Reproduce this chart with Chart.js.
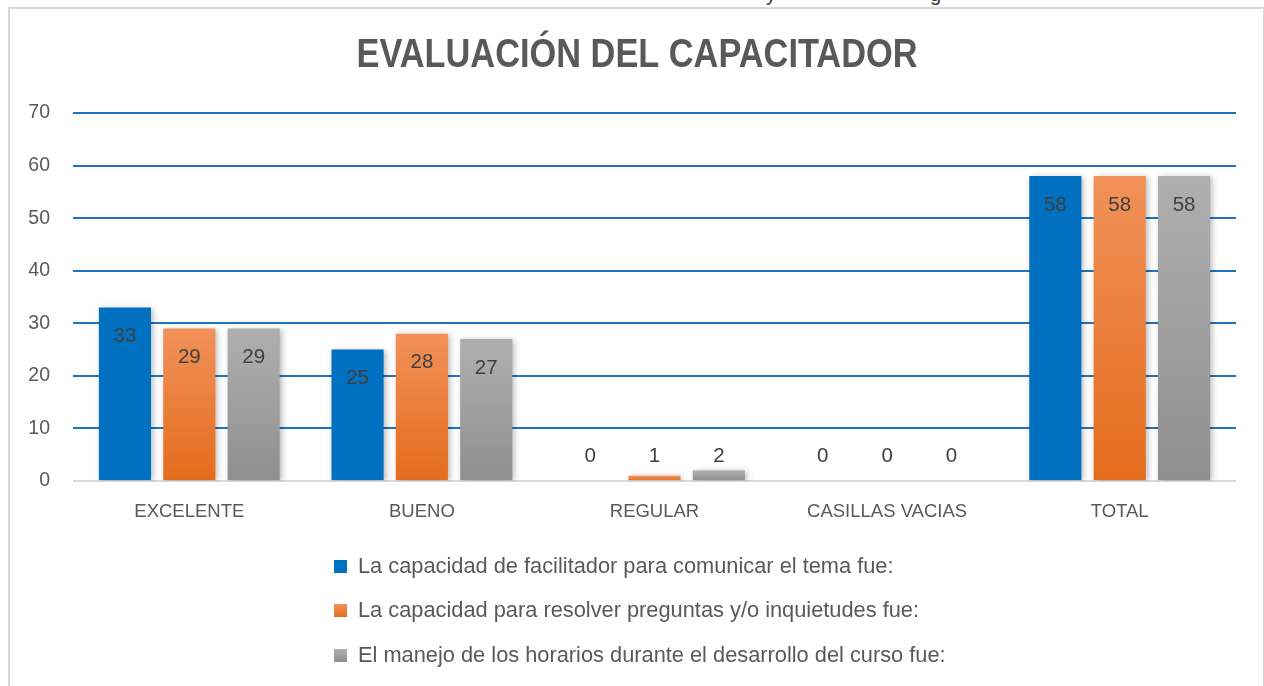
<!DOCTYPE html>
<html lang="es">
<head>
<meta charset="utf-8">
<title>Evaluación del capacitador</title>
<script src="https://cdn.jsdelivr.net/npm/chart.js@4.4.1/dist/chart.umd.min.js"></script>
<style>
  html, body { margin: 0; padding: 0; background: #fff; overflow: hidden; }
  #marco { position: absolute; left: 8px; top: 7px; width: 1253px; height: 700px; border: 2px solid #d9d9d9; border-bottom: none; }
  .corte { position: absolute; top: -17px; font: 20px "Liberation Sans"; color: #333; }
  canvas { position: absolute; left: 0; top: 0; }
</style>
</head>
<body>
<span class="corte" style="left:766px">y</span><span class="corte" style="left:930px">g</span>
<div id="marco"></div>
<canvas id="grafico" width="1264" height="686"></canvas>
<script>
// --- datos ---
const categorias = ['EXCELENTE', 'BUENO', 'REGULAR', 'CASILLAS VACIAS', 'TOTAL'];
const comunicarTema = [33, 25, 0, 0, 58];
const resolverPreguntas = [29, 28, 1, 0, 58];
const manejoHorarios = [29, 27, 2, 0, 58];
const nombresSeries = [
    'La capacidad de facilitador para comunicar el tema fue:',
    'La capacidad para resolver preguntas y/o inquietudes fue:',
    'El manejo de los horarios durante el desarrollo del curso fue:'
];
const ejeYMin = 0;
const ejeYMax = 70;
const ejeYPaso = 10;
const titulo = 'EVALUACIÓN DEL CAPACITADOR';
// --------------------------------

const fuente = '"Liberation Sans", Arial, sans-serif';
Chart.defaults.font.family = fuente;
Chart.defaults.color = '#595959';

// degradado vertical por barra (claro arriba, oscuro abajo)
function degradado(arriba, abajo) {
    return (ctx) => {
        const chart = ctx.chart;
        const y = chart.scales.y;
        if (ctx.type !== 'data' || !y) return abajo;
        const tope = y.getPixelForValue(ctx.raw);
        const base = y.getPixelForValue(0);
        if (!isFinite(tope) || !isFinite(base) || base - tope < 1) return arriba;
        const g = chart.ctx.createLinearGradient(0, tope, 0, base);
        g.addColorStop(0, arriba);
        g.addColorStop(1, abajo);
        return g;
    };
}

const colores = [
    ['#0070C0', '#0070C0'],
    ['#F1915A', '#E46C1C'],
    ['#AFAFAF', '#8F8F8F']
];

// sombra suave detrás de las barras
const sombra = {
    id: 'sombra',
    beforeDatasetsDraw(chart) {
        const c = chart.ctx;
        c.save();
        c.shadowColor = 'rgba(0,0,0,0.28)';
        c.shadowBlur = 6;
        c.shadowOffsetX = 2;
        c.shadowOffsetY = 1;
    },
    afterDatasetsDraw(chart) {
        chart.ctx.restore();
    }
};

// etiquetas de valor (dentro del extremo, o encima si la barra es baja)
const etiquetasValor = {
    id: 'etiquetasValor',
    afterDatasetsDraw(chart) {
        const c = chart.ctx;
        const base = chart.scales.y.getPixelForValue(0);
        c.save();
        c.font = '20.5px ' + fuente;
        c.fillStyle = '#404040';
        c.textAlign = 'center';
        c.textBaseline = 'middle';
        chart.data.datasets.forEach((ds, i) => {
            chart.getDatasetMeta(i).data.forEach((barra, j) => {
                const alto = base - barra.y;
                const ty = alto > 40 ? barra.y + 29 : base - 25;
                c.fillText(String(ds.data[j]), barra.x, ty);
            });
        });
        c.restore();
    }
};

// título y leyenda en lista vertical debajo del gráfico
const tituloYLeyenda = {
    id: 'tituloYLeyenda',
    afterDraw(chart) {
        const c = chart.ctx;
        const centro = 637;
        c.save();
        c.fillStyle = '#595959';
        c.textAlign = 'center';
        c.textBaseline = 'middle';
        c.font = 'bold 41px ' + fuente;
        c.fillText(titulo, centro, 56, 561);

        c.font = '21.8px ' + fuente;
        const anchos = chart.data.datasets.map(ds => c.measureText(ds.label).width);
        const ancho = 24 + Math.max(...anchos);
        const izq = Math.round(centro + 3 - ancho / 2);
        const filas = [566, 610, 655];
        c.textAlign = 'left';
        chart.data.datasets.forEach((ds, i) => {
            const yc = filas[i];
            const g = c.createLinearGradient(0, yc - 6, 0, yc + 7);
            g.addColorStop(0, colores[i][0]);
            g.addColorStop(1, colores[i][1]);
            c.fillStyle = g;
            c.fillRect(izq, yc - 6, 13, 13);
            c.fillStyle = '#595959';
            c.fillText(ds.label, izq + 24, yc + 1);
        });
        c.restore();
    }
};

const series = [comunicarTema, resolverPreguntas, manejoHorarios];

new Chart(document.getElementById('grafico'), {
    type: 'bar',
    data: {
        labels: categorias,
        datasets: series.map((datos, i) => ({
            label: nombresSeries[i],
            data: datos,
            backgroundColor: degradado(colores[i][0], colores[i][1]),
            borderWidth: 0,
            categoryPercentage: 0.83,
            barPercentage: 0.81
        }))
    },
    options: {
        responsive: false,
        animation: false,
        layout: { padding: { left: 10, right: 28, top: 113, bottom: 155 } },
        plugins: {
            legend: { display: false },
            title: { display: false },
            tooltip: { enabled: false }
        },
        scales: {
            x: {
                grid: { display: false, drawTicks: false },
                border: { display: false },
                ticks: { padding: 20, font: { size: 18.5 }, color: '#595959', maxRotation: 0 },
                afterFit(scale) { scale.height = 50; }
            },
            y: {
                min: ejeYMin,
                max: ejeYMax,
                grid: {
                    drawTicks: false,
                    lineWidth: 2,
                    color: (ctx) => ctx.tick && ctx.tick.value === 0 ? '#D9D9D9' : '#1F73BE'
                },
                border: { display: false },
                ticks: { stepSize: ejeYPaso, padding: 23, font: { size: 19.5 }, color: '#595959' },
                afterFit(scale) { scale.width = 63; }
            }
        }
    },
    plugins: [sombra, etiquetasValor, tituloYLeyenda]
});
</script>
</body>
</html>
